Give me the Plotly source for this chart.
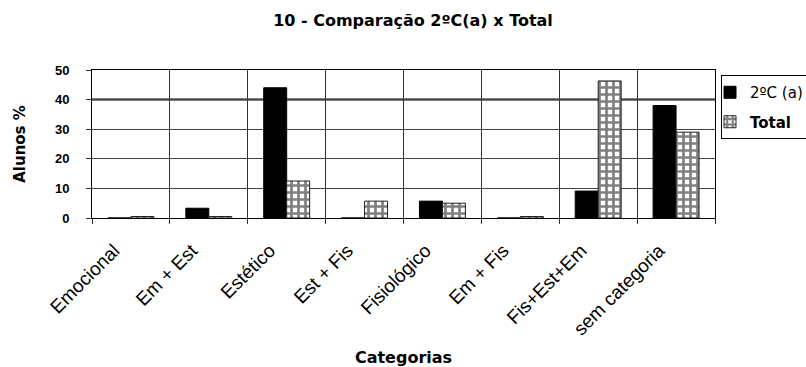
import plotly.graph_objects as go

categories = ["Emocional", "Em + Est", "Estético", "Est + Fis", "Fisiológico",
              "Em + Fis", "Fis+Est+Em", "sem categoria"]
serie_2c = [0, 3.3, 44, 0, 5.7, 0, 9.1, 38]
serie_total = [0.5, 0.5, 12.5, 5.7, 5.0, 0.5, 46.3, 29]
y_ticks = [0, 10, 20, 30, 40, 50]

ARIAL = "Liberation Sans, Arial, sans-serif"
WIDE = "DejaVu Sans, Verdana, sans-serif"

fig = go.Figure()
fig.add_trace(go.Bar(
    name="2ºC (a)", x=categories, y=serie_2c, legendgroup="a",
    marker=dict(color="black", line=dict(color="black", width=1)),
))
fig.add_trace(go.Bar(
    name="<b>Total</b>", x=categories, y=serie_total, legendgroup="b",
    marker=dict(color="white", line=dict(color="#222", width=1),
                pattern=dict(shape="+", fgcolor="#000", bgcolor="white",
                             size=7, solidity=0.62)),
))

fig.update_layout(
    width=806, height=367,
    paper_bgcolor="white", plot_bgcolor="white",
    margin=dict(l=92, r=91, t=70, b=149, autoexpand=False),
    barmode="group", bargap=0.41, bargroupgap=0,
    font=dict(family=ARIAL, color="black", size=13),
    title=dict(text="10 - Comparação 2ºC(a) x Total", x=413/806, xanchor="center",
               y=1 - 20/367, yanchor="middle",
               font=dict(family=WIDE, size=16, weight="bold", color="black")),
    legend=dict(x=(721-92)/623, xanchor="left", y=(218-75)/148, yanchor="top",
                bgcolor="white", bordercolor="black", borderwidth=1,
                font=dict(family=WIDE, size=15, color="black"),
                tracegroupgap=7, traceorder="grouped", itemwidth=30,
                indentation=-12),
    showlegend=True,
)
fig.update_xaxes(
    type="category", tickson="boundaries", showgrid=True, gridcolor="#333", gridwidth=1,
    ticks="outside", ticklen=5, tickcolor="#333",
    tickangle=-45, tickfont=dict(family=ARIAL, size=19, color="black"),
    ticklabelstandoff=13, ticklabelshift=-17,
    showline=True, linecolor="black", linewidth=1, mirror=True,
    title=dict(text="Categorias", font=dict(family=WIDE, size=16, weight="bold"), standoff=14),
)
fig.update_yaxes(
    range=[0, 50], tickvals=y_ticks, showgrid=True, gridcolor="#444", gridwidth=1,
    ticks="outside", ticklen=5, tickcolor="#333",
    tickfont=dict(family=ARIAL, size=13, weight="bold", color="black"),
    ticklabelstandoff=14,
    showline=True, linecolor="black", linewidth=1, mirror=True,
    zeroline=False,
    title=dict(text="Alunos %", font=dict(family=WIDE, size=15, weight="bold"), standoff=25),
)
fig.add_hline(y=40, line=dict(color="black", width=2), layer="below")

fig.write_html("out.html", config={"displayModeBar": False},
               post_script="document.body.style.margin='0';")
